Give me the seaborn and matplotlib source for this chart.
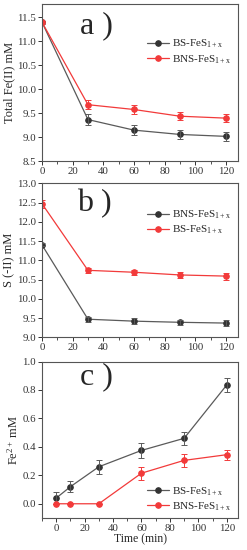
import matplotlib
matplotlib.use("Agg")
import matplotlib.pyplot as plt
import seaborn as sns
import pandas as pd
from matplotlib.ticker import MultipleLocator

sns.set_style("ticks")
plt.rcParams['font.family'] = ['Liberation Serif', 'DejaVu Serif']
plt.rcParams['mathtext.fontset'] = 'custom'
plt.rcParams['mathtext.rm'] = 'Liberation Serif'
plt.rcParams['mathtext.it'] = 'Liberation Serif:italic'

# Data
time_ab = [0, 30, 60, 90, 120]
time_c = [0, 10, 30, 60, 90, 120]

# a) total Fe(II)
a_bs = [11.40, 9.37, 9.15, 9.06, 9.02]
a_bs_err = [0.03, 0.12, 0.11, 0.10, 0.09]
a_bns = [11.40, 9.68, 9.58, 9.44, 9.40]
a_bns_err = [0.03, 0.09, 0.09, 0.08, 0.08]

# b) S(-II)
b_bns = [11.40, 9.47, 9.42, 9.39, 9.37]
b_bns_err = [0.04, 0.06, 0.07, 0.07, 0.07]
b_bs = [12.47, 10.74, 10.69, 10.62, 10.59]
b_bs_err = [0.10, 0.07, 0.07, 0.07, 0.09]

# c) Fe2+
c_bs = [0.04, 0.12, 0.26, 0.375, 0.46, 0.835]
c_bs_err = [0.04, 0.04, 0.05, 0.05, 0.045, 0.05]
c_bns = [0.0, 0.0, 0.0, 0.215, 0.305, 0.345]
c_bns_err = [0.0, 0.0, 0.0, 0.045, 0.045, 0.035]

yticks_a = [8.5, 9.0, 9.5, 10.0, 10.5, 11.0, 11.5]
yticks_b = [9.0, 9.5, 10.0, 10.5, 11.0, 11.5, 12.0, 12.5, 13.0]
yticks_c = [0.0, 0.2, 0.4, 0.6, 0.8, 1.0]

lbl_bs = r'BS-FeS$_{\mathregular{1+x}}$'
lbl_bns = r'BNS-FeS$_{\mathregular{1+x}}$'

dark = '#333333'
line_dark = '#5a5a5a'
red = '#f23a3a'

fig = plt.figure(figsize=(2.47, 5.5), dpi=100)
left, width = 0.17, 0.794
ax_a = fig.add_axes([left, 0.7067, width, 0.2853])
ax_b = fig.add_axes([left, 0.3867, width, 0.2800])
ax_c = fig.add_axes([left, 0.0582, width, 0.2845])


def draw(ax, x, y, err, color, lcolor, label):
    df = pd.DataFrame({'t': x, 'v': y})
    sns.lineplot(data=df, x='t', y='v', ax=ax, color=lcolor, linewidth=0.9,
                 marker='o', markersize=4, markerfacecolor=color,
                 markeredgecolor=color, label=label)
    ax.errorbar(x, y, yerr=err, fmt='none', ecolor=lcolor, elinewidth=0.7,
                capsize=2, capthick=0.7)


draw(ax_a, time_ab, a_bs, a_bs_err, dark, line_dark, lbl_bs)
draw(ax_a, time_ab, a_bns, a_bns_err, red, red, lbl_bns)
draw(ax_b, time_ab, b_bns, b_bns_err, dark, line_dark, lbl_bns)
draw(ax_b, time_ab, b_bs, b_bs_err, red, red, lbl_bs)
draw(ax_c, time_c, c_bs, c_bs_err, dark, line_dark, lbl_bs)
draw(ax_c, time_c, c_bns, c_bns_err, red, red, lbl_bns)

ax_a.set_yticks(yticks_a)
ax_a.set_ylim(8.5, 11.77)
ax_a.set_ylabel('Total Fe(II) mM', fontsize=9, labelpad=1.5)
ax_a.set_xlim(0, 128)

ax_b.set_yticks(yticks_b)
ax_b.set_ylim(9.0, 13.0)
ax_b.set_ylabel('S (-II) mM', fontsize=9, labelpad=1.5)
ax_b.set_xlim(0, 128)

ax_c.set_yticks(yticks_c)
ax_c.set_yticklabels(['%.1f' % v for v in yticks_c])
ax_c.set_ylim(-0.1, 1.0)
ax_c.set_ylabel(r'Fe$^{\mathregular{2+}}$ mM', fontsize=9, labelpad=1.5)
ax_c.set_xlim(-10, 128)
ax_c.set_xlabel('Time (min)', fontsize=8.5, labelpad=0)

for ax in (ax_a, ax_b):
    ax.set_xlabel('')

for ax in (ax_a, ax_b, ax_c):
    ax.xaxis.set_major_locator(MultipleLocator(20))
    ax.xaxis.set_minor_locator(MultipleLocator(10))
    ax.tick_params(axis='both', which='major', labelsize=7.8, length=3,
                   width=0.7, pad=1.2, colors='#333333')
    ax.tick_params(axis='x', which='minor', length=1.8, width=0.6,
                   colors='#333333')
    for sp in ax.spines.values():
        sp.set_visible(True)
        sp.set_linewidth(0.8)
        sp.set_color('#555555')

ax_a.text(0.195, 0.865, 'a )', transform=ax_a.transAxes, fontsize=23,
          va='center', ha='left')
ax_b.text(0.18, 0.87, 'b )', transform=ax_b.transAxes, fontsize=23,
          va='center', ha='left')
ax_c.text(0.195, 0.90, 'c )', transform=ax_c.transAxes, fontsize=23,
          va='center', ha='left')

leg_kw = dict(fontsize=8, frameon=False, handlelength=2.0, handletextpad=0.3,
              labelspacing=0.25, borderaxespad=0.2)
ax_a.legend(loc='upper right', bbox_to_anchor=(1.0, 0.83), **leg_kw)
ax_b.legend(loc='upper right', bbox_to_anchor=(1.0, 0.88), **leg_kw)
ax_c.legend(loc='lower right', bbox_to_anchor=(1.0, -0.01), **leg_kw)

fig.savefig('out.png', dpi=100)
